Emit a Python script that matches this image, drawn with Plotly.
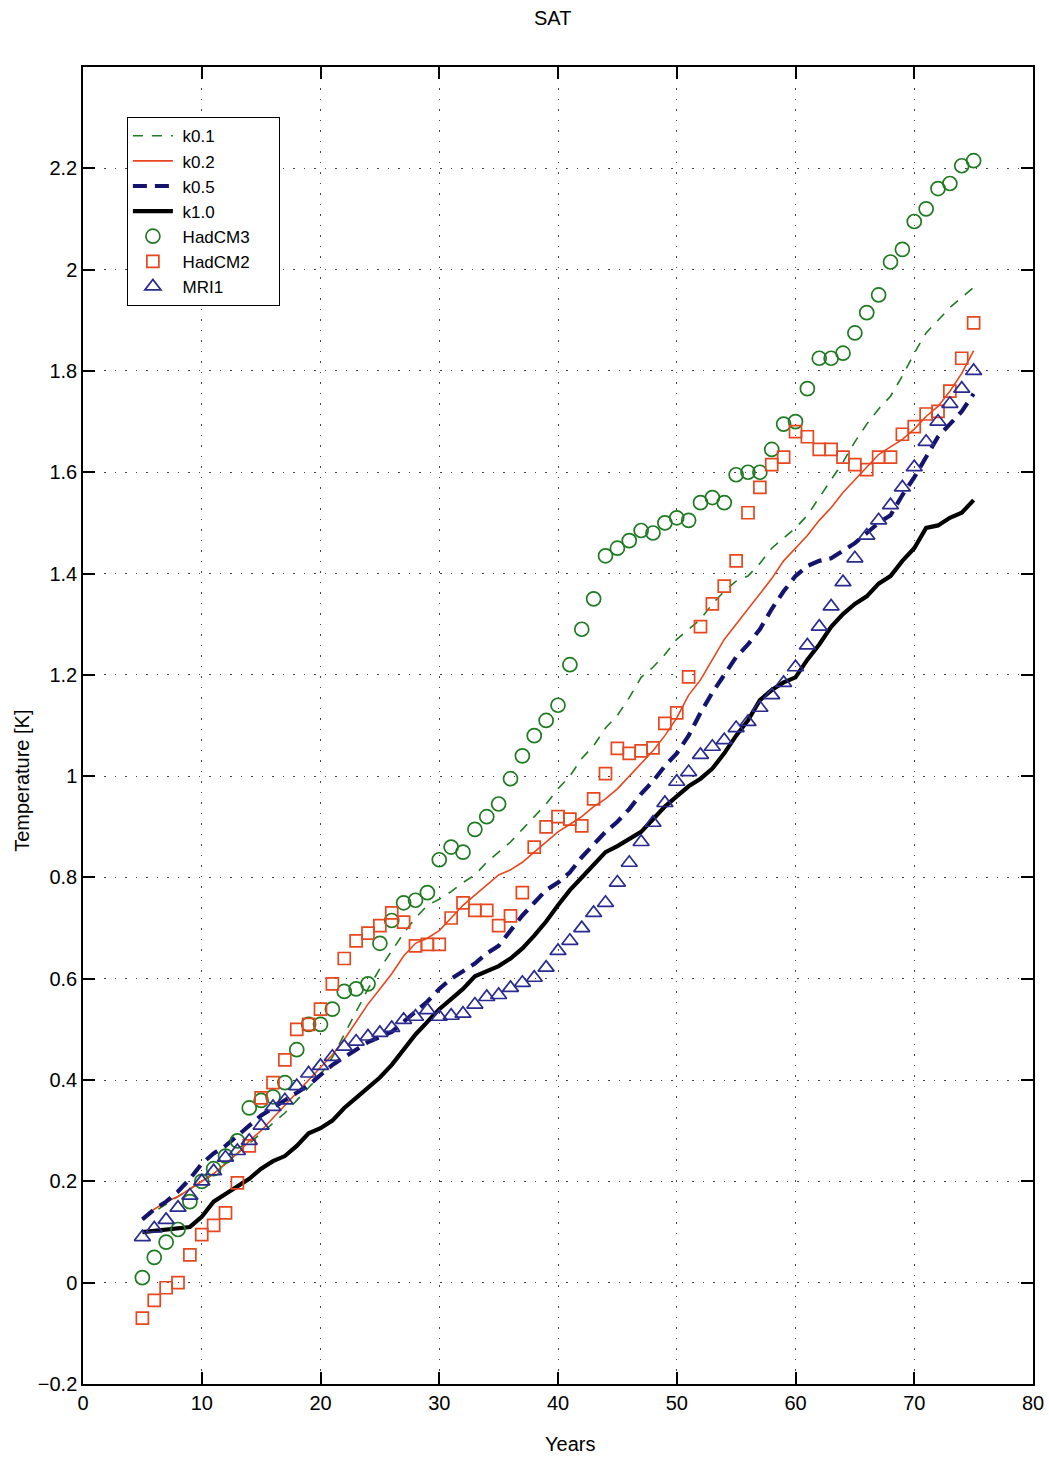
import plotly.graph_objects as go

# Model years (x axis)
years = [5, 6, 7, 8, 9, 10, 11, 12, 13, 14, 15, 16, 17, 18, 19, 20, 21, 22, 23, 24,
         25, 26, 27, 28, 29, 30, 31, 32, 33, 34, 35, 36, 37, 38, 39, 40, 41, 42, 43, 44,
         45, 46, 47, 48, 49, 50, 51, 52, 53, 54, 55, 56, 57, 58, 59, 60, 61, 62, 63, 64,
         65, 66, 67, 68, 69, 70, 71, 72, 73, 74, 75]

# Simple-model curves for different k values
k01 = [0.125, 0.14, 0.155, 0.17, 0.185, 0.2, 0.215, 0.235, 0.255, 0.275,
       0.295, 0.315, 0.335, 0.36, 0.385, 0.41, 0.445, 0.49, 0.535, 0.58,
       0.62, 0.655, 0.69, 0.72, 0.745, 0.757, 0.772, 0.79, 0.805, 0.83,
       0.85, 0.87, 0.895, 0.92, 0.945, 0.975, 1.0, 1.035, 1.06, 1.095,
       1.12, 1.155, 1.195, 1.215, 1.24, 1.27, 1.29, 1.31, 1.34, 1.365,
       1.385, 1.395, 1.42, 1.45, 1.47, 1.49, 1.515, 1.55, 1.585, 1.62,
       1.66, 1.695, 1.725, 1.75, 1.79, 1.835, 1.875, 1.9, 1.925, 1.945, 1.965]

k02 = [0.125, 0.145, 0.16, 0.17, 0.185, 0.2, 0.215, 0.235, 0.255, 0.28,
       0.3, 0.325, 0.35, 0.375, 0.4, 0.425, 0.45, 0.48, 0.515, 0.55,
       0.58, 0.61, 0.645, 0.67, 0.68, 0.695, 0.72, 0.745, 0.765, 0.785,
       0.805, 0.815, 0.83, 0.85, 0.87, 0.89, 0.905, 0.92, 0.94, 0.955,
       0.975, 1.0, 1.025, 1.05, 1.08, 1.115, 1.16, 1.19, 1.23, 1.27,
       1.3, 1.33, 1.36, 1.39, 1.425, 1.45, 1.475, 1.505, 1.53, 1.56,
       1.585, 1.61, 1.635, 1.65, 1.665, 1.685, 1.71, 1.73, 1.76, 1.795, 1.84]

k05 = [0.125, 0.145, 0.16, 0.18, 0.205, 0.235, 0.255, 0.27, 0.29, 0.31,
       0.33, 0.345, 0.36, 0.375, 0.39, 0.41, 0.43, 0.445, 0.46, 0.475,
       0.485, 0.495, 0.515, 0.535, 0.555, 0.58, 0.6, 0.615, 0.63, 0.65,
       0.665, 0.695, 0.725, 0.75, 0.775, 0.79, 0.81, 0.84, 0.865, 0.89,
       0.91, 0.935, 0.965, 0.99, 1.02, 1.045, 1.08, 1.125, 1.165, 1.2,
       1.235, 1.26, 1.29, 1.33, 1.365, 1.395, 1.415, 1.425, 1.43, 1.445,
       1.46, 1.48, 1.5, 1.515, 1.555, 1.59, 1.63, 1.67, 1.695, 1.72, 1.755]

k10 = [0.1, 0.103, 0.105, 0.107, 0.11, 0.13, 0.16, 0.175, 0.19, 0.205,
       0.225, 0.24, 0.25, 0.27, 0.295, 0.305, 0.32, 0.345, 0.365, 0.385,
       0.405, 0.43, 0.46, 0.49, 0.515, 0.54, 0.56, 0.58, 0.605, 0.614,
       0.625, 0.64, 0.66, 0.685, 0.713, 0.745, 0.775, 0.8, 0.825, 0.85,
       0.862, 0.875, 0.89, 0.915, 0.94, 0.96, 0.98, 0.995, 1.015, 1.045,
       1.08, 1.11, 1.15, 1.17, 1.185, 1.195, 1.23, 1.26, 1.295, 1.32,
       1.34, 1.355, 1.38, 1.395, 1.425, 1.45, 1.49, 1.495, 1.51, 1.52, 1.545]

# GCM results
hadcm3 = [0.01, 0.05, 0.08, 0.105, 0.16, 0.2, 0.225, 0.25, 0.28, 0.345,
          0.36, 0.367, 0.395, 0.46, 0.51, 0.51, 0.54, 0.575, 0.58, 0.59,
          0.67, 0.715, 0.75, 0.755, 0.77, 0.835, 0.86, 0.85, 0.895, 0.92,
          0.945, 0.995, 1.04, 1.08, 1.11, 1.14, 1.22, 1.29, 1.35, 1.435,
          1.45, 1.465, 1.485, 1.48, 1.5, 1.51, 1.505, 1.54, 1.55, 1.54,
          1.595, 1.6, 1.6, 1.645, 1.695, 1.7, 1.765, 1.825, 1.825, 1.835,
          1.875, 1.915, 1.95, 2.015, 2.04, 2.095, 2.12, 2.16, 2.17, 2.205, 2.215]

hadcm2 = [-0.07, -0.035, -0.01, 0.0, 0.055, 0.095, 0.113, 0.138, 0.197, 0.27,
          0.365, 0.395, 0.44, 0.5, 0.51, 0.54, 0.59, 0.64, 0.675, 0.69,
          0.705, 0.73, 0.712, 0.665, 0.668, 0.668, 0.72, 0.75, 0.735, 0.735,
          0.705, 0.724, 0.77, 0.86, 0.9, 0.92, 0.915, 0.902, 0.955, 1.005,
          1.055, 1.045, 1.05, 1.056, 1.104, 1.125, 1.196, 1.295, 1.34, 1.375,
          1.425, 1.52, 1.57, 1.615, 1.63, 1.68, 1.67, 1.645, 1.645, 1.63,
          1.615, 1.605, 1.63, 1.63, 1.675, 1.69, 1.715, 1.72, 1.76, 1.825, 1.895]

mri1 = [0.09, 0.107, 0.124, 0.148, 0.172, 0.2, 0.22, 0.247, 0.26, 0.28,
        0.31, 0.347, 0.36, 0.388, 0.413, 0.428, 0.446, 0.466, 0.476, 0.486,
        0.493, 0.503, 0.519, 0.525, 0.538, 0.525, 0.527, 0.531, 0.549, 0.564,
        0.568, 0.582, 0.592, 0.602, 0.622, 0.655, 0.675, 0.7, 0.73, 0.75,
        0.79, 0.829, 0.87, 0.908, 0.947, 0.989, 1.008, 1.042, 1.058, 1.071,
        1.095, 1.107, 1.135, 1.16, 1.184, 1.215, 1.258, 1.295, 1.335, 1.383,
        1.43, 1.475, 1.505, 1.535, 1.57, 1.61, 1.66, 1.7, 1.735, 1.765, 1.8]

x_ticks = [0, 10, 20, 30, 40, 50, 60, 70, 80]
y_ticks = [-0.2, 0, 0.2, 0.4, 0.6, 0.8, 1, 1.2, 1.4, 1.6, 1.8, 2, 2.2]
y_ticklabels = ["\u22120.2", "0", "0.2", "0.4", "0.6", "0.8", "1", "1.2",
                "1.4", "1.6", "1.8", "2", "2.2"]

GREEN = "#1f7a22"
RED = "#e8461e"
NAVY = "#14146e"
BLUE = "#2a2a90"
FONT = "Liberation Sans, Arial, Helvetica, sans-serif"

# legend entries padded with non-breaking spaces so the legend box is wider
PAD = "\u00a0" * 5

fig = go.Figure()

fig.add_trace(go.Scatter(x=years, y=k01, mode="lines", name=" k0.1",
                         line=dict(color=GREEN, width=1.6, dash="10px,9px")))
fig.add_trace(go.Scatter(x=years, y=k02, mode="lines", name=" k0.2",
                         line=dict(color=RED, width=1.6)))
fig.add_trace(go.Scatter(x=years, y=k05, mode="lines", name=" k0.5",
                         line=dict(color=NAVY, width=4.2, dash="14px,8px")))
fig.add_trace(go.Scatter(x=years, y=k10, mode="lines", name=" k1.0",
                         line=dict(color="black", width=4.2)))
fig.add_trace(go.Scatter(x=years, y=hadcm3, mode="markers", name=" HadCM3" + PAD,
                         marker=dict(symbol="circle-open", size=14, color=GREEN,
                                     line=dict(width=1.7, color=GREEN))))
fig.add_trace(go.Scatter(x=years, y=hadcm2, mode="markers", name=" HadCM2",
                         marker=dict(symbol="square-open", size=12, color=RED,
                                     line=dict(width=1.7, color=RED))))
fig.add_trace(go.Scatter(x=years, y=mri1, mode="markers", name=" MRI1",
                         marker=dict(symbol="triangle-up-open", size=14, color=BLUE,
                                     line=dict(width=1.7, color=BLUE))))

axis_common = dict(
    showline=True, linecolor="black", linewidth=1.5, mirror="ticks",
    ticks="inside", ticklen=12, tickwidth=1.5, tickcolor="black",
    showgrid=True, gridcolor="#444444", gridwidth=1.2, griddash="1.5px,9px",
    zeroline=False, automargin=False,
    tickfont=dict(family=FONT, size=20, color="black"),
)

fig.update_xaxes(range=[0, 80], tickvals=x_ticks, **axis_common)
fig.update_yaxes(range=[-0.2, 2.4], tickvals=y_ticks, ticktext=y_ticklabels,
                 **axis_common)

fig.update_layout(
    width=1049, height=1458,
    margin=dict(l=83, r=16, t=67, b=74),
    paper_bgcolor="white", plot_bgcolor="white",
    font=dict(family=FONT, size=20, color="black"),
    showlegend=True,
    legend=dict(x=0.046, y=0.962, xanchor="left", yanchor="top",
                bgcolor="white", bordercolor="black", borderwidth=1.2,
                font=dict(family=FONT, size=17), itemwidth=40,
                tracegroupgap=0),
    annotations=[
        dict(text="SAT", xref="paper", yref="paper", x=0.4947, y=1.0,
             yshift=49, showarrow=False, font=dict(family=FONT, size=20),
             xanchor="center", yanchor="middle"),
        dict(text="Years", xref="paper", yref="paper", x=0.513, y=0, yshift=-60,
             showarrow=False, font=dict(family=FONT, size=20),
             xanchor="center", yanchor="middle"),
        dict(text="Temperature [K]", xref="paper", yref="paper", x=0, y=0.458,
             xshift=-61, textangle=-90, showarrow=False,
             font=dict(family=FONT, size=20), xanchor="center", yanchor="middle"),
    ],
)

fig.write_html("out.html")
